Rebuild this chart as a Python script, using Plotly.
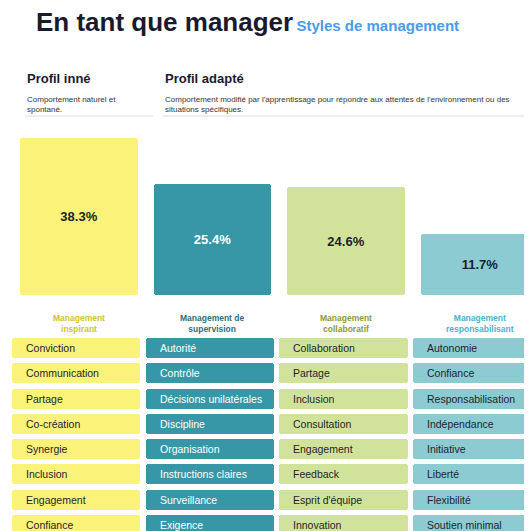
import plotly.graph_objects as go

styles = ['Management<br>inspirant', 'Management de<br>supervision',
          'Management<br>collaboratif', 'Management<br>responsabilisant']
pcts = [38.3, 25.4, 24.6, 11.7]
keywords = [
    ['Conviction', 'Communication', 'Partage', 'Co-création', 'Synergie', 'Inclusion', 'Engagement', 'Confiance'],
    ['Autorité', 'Contrôle', 'Décisions unilatérales', 'Discipline', 'Organisation', 'Instructions claires', 'Surveillance', 'Exigence'],
    ['Collaboration', 'Partage', 'Inclusion', 'Consultation', 'Engagement', 'Feedback', "Esprit d'équipe", 'Innovation'],
    ['Autonomie', 'Confiance', 'Responsabilisation', 'Indépendance', 'Initiative', 'Liberté', 'Flexibilité', 'Soutien minimal'],
]
fills = ['#fbf27a', '#3797a6', '#d1e39a', '#8ccbd2']
label_colors = ['#d4c22a', '#2e6f7c', '#8a9a3a', '#4ab3c5']
text_colors = ['#1e1e2e', '#ffffff', '#1e1e2e', '#1e1e2e']
FONT = 'Liberation Sans, Arial, sans-serif'
base_val = -5.3

fig = go.Figure()
xs = list(range(4))
fig.add_trace(go.Bar(
    x=xs, y=[p - base_val for p in pcts], base=base_val, width=0.88,
    marker=dict(color=fills, cornerradius=3, line=dict(width=0)),
    text=[f'<b>{p}%</b>' for p in pcts], textposition='inside',
    insidetextanchor='middle', textangle=0,
    textfont=dict(size=13, color=text_colors, family=FONT),
    hoverinfo='skip', xaxis='x', yaxis='y'))

nrows = len(keywords[0])
for c in range(4):
    fig.add_trace(go.Bar(
        x=[c] * nrows, y=[0.79] * nrows, base=list(range(nrows)), width=0.96,
        marker=dict(color=fills[c], cornerradius=3, line=dict(width=0)),
        hoverinfo='skip', xaxis='x2', yaxis='y2'))
    for r, kw in enumerate(keywords[c]):
        fig.add_annotation(x=c - 0.48, y=r + 0.395, xref='x2', yref='y2', text=kw,
                           xanchor='left', xshift=12, showarrow=False,
                           font=dict(size=10.5, color='#ffffff' if c == 1 else '#1e1e2e', family=FONT))
    fig.add_annotation(x=c, y=0.405, xref='x', yref='paper', text=f'<b>{styles[c]}</b>',
                       showarrow=False, yanchor='middle',
                       font=dict(size=8.5, color=label_colors[c], family=FONT))

fig.add_annotation(x=26 / 532, y=1 - 14 / 531, xref='paper', yref='paper', xanchor='left',
                   yanchor='middle', showarrow=False,
                   text='<b><span style="font-size:26px;color:#1a1a2e">En tant que manager</span> '
                        '<span style="font-size:15px;color:#4a9be8">Styles de management</span></b>',
                   font=dict(family=FONT))
heads = [(17, 'Profil inné', 'Comportement naturel et<br>spontané.', 145),
         (155, 'Profil adapté', "Comportement modifié par l'apprentissage pour répondre aux attentes de l'environnement ou des<br>situations spécifiques.", 527)]
for x0, title, desc, x1 in heads:
    fig.add_annotation(x=x0 / 532, y=1 - 61 / 531, xref='paper', yref='paper', xanchor='left',
                       showarrow=False, text=f'<b>{title}</b>',
                       font=dict(size=13, color='#1a1a2e', family=FONT))
    fig.add_annotation(x=x0 / 532, y=1 - 85 / 531, xref='paper', yref='paper', xanchor='left',
                       align='left', showarrow=False, text=desc,
                       font=dict(size=8, color='#333333', family=FONT))
    fig.add_shape(type='line', xref='paper', yref='paper', x0=x0 / 532, x1=x1 / 532,
                  y0=1 - 108 / 531, y1=1 - 108 / 531, line=dict(color='#dddddd', width=1))

fig.update_layout(
    width=532, height=531, margin=dict(l=0, r=0, t=0, b=0),
    paper_bgcolor='white', plot_bgcolor='white', showlegend=False, bargap=0,
    xaxis=dict(range=[-0.53, 3.45], domain=[0, 1], visible=False, fixedrange=True),
    yaxis=dict(range=[base_val, 38.3], domain=[1 - 287 / 531, 1 - 130 / 531], visible=False),
    xaxis2=dict(range=[-0.51, 3.47], domain=[0, 1], visible=False, anchor='y2'),
    yaxis2=dict(range=[7.79, 0], domain=[1 - 527 / 531, 1 - 330 / 531], visible=False, anchor='x2'),
    barmode='overlay',
)
fig.write_html('out.html')
